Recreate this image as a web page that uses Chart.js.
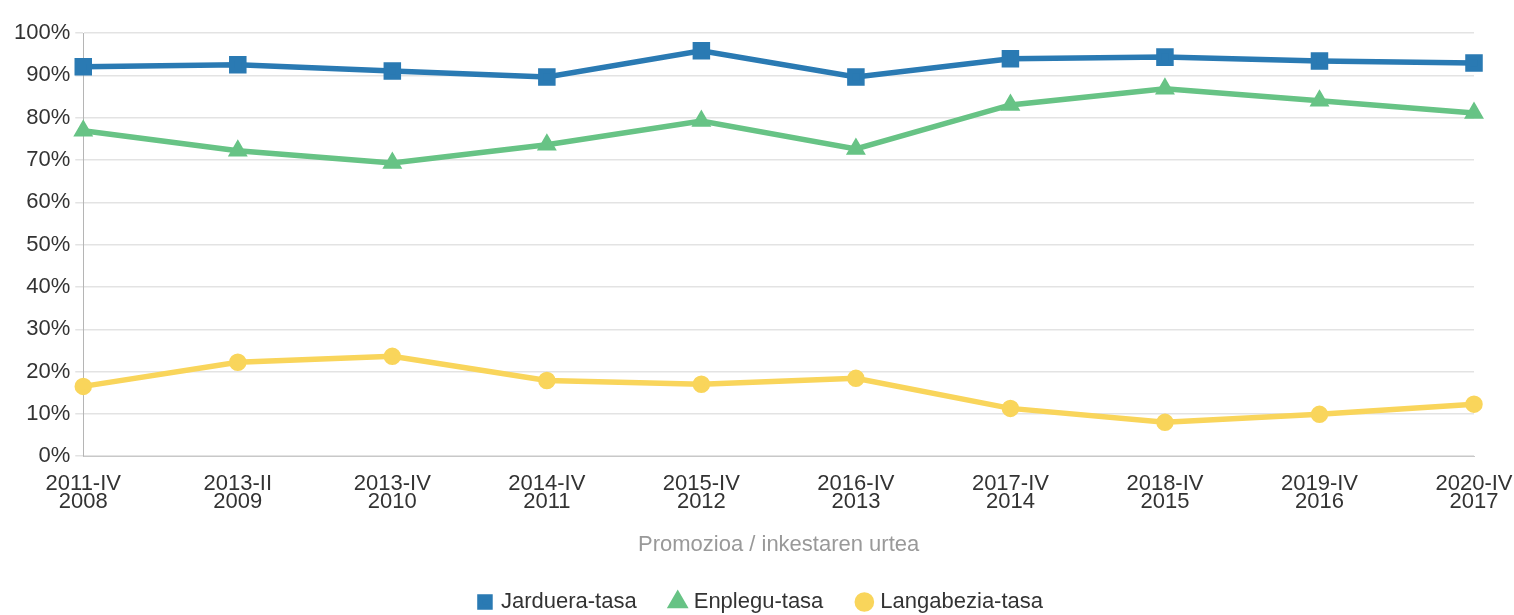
<!DOCTYPE html>
<html>
<head>
<meta charset="utf-8">
<script src="https://cdn.jsdelivr.net/npm/chart.js@4.4.1/dist/chart.umd.min.js"></script>
<style>
  html, body { margin: 0; padding: 0; background: #fff; }
  #wrap { width: 1514px; height: 615px; }
</style>
</head>
<body>
<div id="wrap"><canvas id="chart" width="1514" height="615"></canvas></div>
<script>
// categories: promotion / survey year
const categories = [
  ['2011-IV', '2008'], ['2013-II', '2009'], ['2013-IV', '2010'], ['2014-IV', '2011'],
  ['2015-IV', '2012'], ['2016-IV', '2013'], ['2017-IV', '2014'], ['2018-IV', '2015'],
  ['2019-IV', '2016'], ['2020-IV', '2017']
];

// rates (%)
const jarduera = [92.0, 92.5, 91.0, 89.6, 95.8, 89.6, 93.9, 94.3, 93.4, 92.9];
const enplegu = [76.9, 72.2, 69.3, 73.6, 79.2, 72.6, 83.0, 86.8, 84.0, 81.1];
const langabezia = [16.5, 22.2, 23.6, 17.9, 17.0, 18.4, 11.3, 8.0, 9.9, 12.3];

const yTicks = [0, 10, 20, 30, 40, 50, 60, 70, 80, 90, 100];

const fontFamily = '"Liberation Sans", Arial, sans-serif';

document.addEventListener('DOMContentLoaded', () => {
  const ctx = document.getElementById('chart').getContext('2d');

  new Chart(ctx, {
    type: 'line',
    data: {
      labels: categories,
      datasets: [
        {
          label: 'Jarduera-tasa',
          data: jarduera,
          borderColor: '#2a7ab3',
          backgroundColor: '#2a7ab3',
          borderWidth: 5.5,
          pointStyle: 'rect',
          pointRadius: 8.5,
          pointHoverRadius: 8.5
        },
        {
          label: 'Enplegu-tasa',
          data: enplegu,
          borderColor: '#67c385',
          backgroundColor: '#67c385',
          borderWidth: 5.5,
          pointStyle: 'triangle',
          pointRadius: 6,
          pointHoverRadius: 6
        },
        {
          label: 'Langabezia-tasa',
          data: langabezia,
          borderColor: '#f9d55b',
          backgroundColor: '#f9d55b',
          borderWidth: 5.5,
          pointStyle: 'circle',
          pointRadius: 6,
          pointHoverRadius: 6
        }
      ]
    },
    options: {
      responsive: false,
      animation: false,
      layout: { padding: { top: 33, left: 9, right: 0, bottom: -8 } },
      plugins: {
        tooltip: { enabled: false },
        legend: {
          position: 'bottom',
          labels: {
            usePointStyle: true,
            boxWidth: 10,
            boxHeight: 10,
            padding: 36,
            color: '#333',
            font: { family: fontFamily, size: 22 }
          }
        }
      },
      scales: {
        x: {
          offset: false,
          // last label may run close to the right edge, as in the original
          afterFit: (scale) => { scale.paddingRight = 40; },
          grid: { display: false },
          border: { display: true, color: '#c8c8c8', width: 1 },
          ticks: {
            color: '#333',
            maxRotation: 0,
            autoSkip: false,
            padding: 11,
            font: { family: fontFamily, size: 22, lineHeight: 0.82 }
          },
          title: {
            display: true,
            text: 'Promozioa / inkestaren urtea',
            color: '#999',
            padding: { top: 13, bottom: 1 },
            font: { family: fontFamily, size: 22, lineHeight: 0.85 }
          }
        },
        y: {
          min: 0,
          max: 100,
          afterBuildTicks: (axis) => { axis.ticks = yTicks.map(v => ({ value: v })); },
          grid: { color: '#e3e3e3', lineWidth: 1.5, tickLength: 8 },
          border: { display: true, color: '#b5b5b5', width: 1 },
          ticks: {
            color: '#333',
            padding: 5,
            font: { family: fontFamily, size: 22 },
            callback: (v) => v + '%'
          }
        }
      }
    }
  });
});
</script>
</body>
</html>
